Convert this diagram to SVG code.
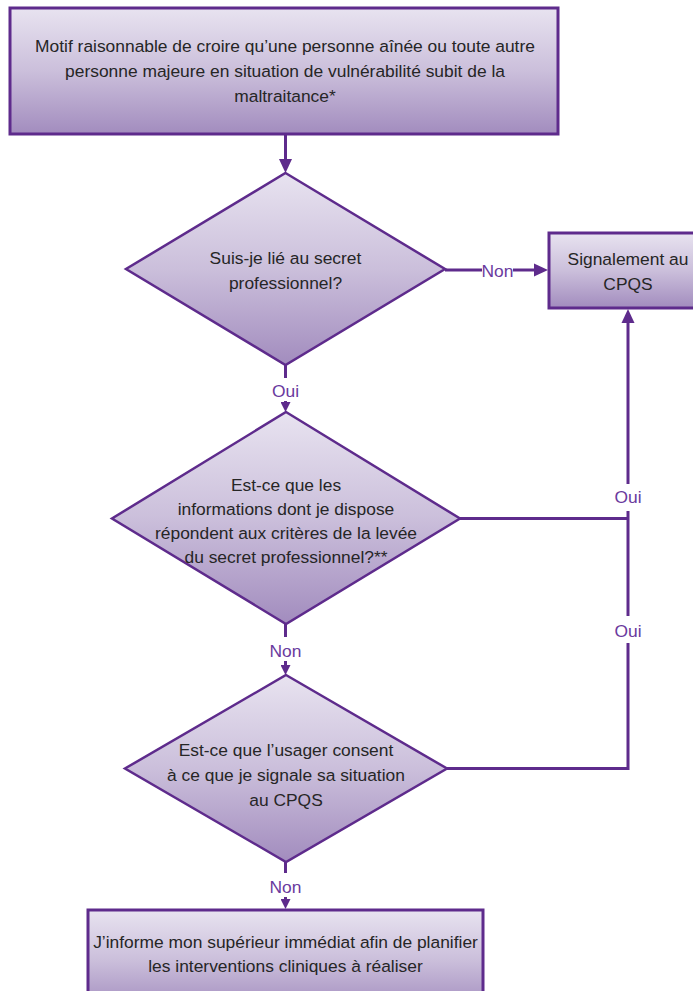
<svg xmlns="http://www.w3.org/2000/svg" width="693" height="991" viewBox="0 0 693 991">
<style>
.box{stroke:#5e2b8c;stroke-width:3;fill:url(#g)}
.dia{stroke:#5e2b8c;stroke-width:2.5;fill:url(#g);stroke-linejoin:miter}
.t{font-family:"Liberation Sans",Arial,sans-serif;font-size:17.4px;fill:#262626;text-anchor:middle}
.lbl{font-family:"Liberation Sans",Arial,sans-serif;font-size:17.4px;fill:#6a3a9e;text-anchor:middle}
.c{stroke:#5e2b8c;stroke-width:3;fill:none}
</style>
<defs>
<linearGradient id="g" x1="0" y1="0" x2="0" y2="1">
<stop offset="0" stop-color="#e8e3f0"/>
<stop offset="0.5" stop-color="#cbbfdb"/>
<stop offset="1" stop-color="#a28cbe"/>
</linearGradient>
<marker id="ab" markerUnits="userSpaceOnUse" markerWidth="14" markerHeight="14" viewBox="0 0 14 14" refX="2" refY="7" orient="auto">
<path d="M0,0.5 L14,7 L0,13.5 z" fill="#5e2b8c"/>
</marker>
<marker id="as" markerUnits="userSpaceOnUse" markerWidth="10" markerHeight="10" viewBox="0 0 10 10" refX="2" refY="5" orient="auto">
<path d="M0,0 L10,5 L0,10 z" fill="#5e2b8c"/>
</marker>
</defs>

<g id="connectors">
<path class="c" d="M285.5,135 V161" marker-end="url(#ab)"/>
<path class="c" d="M445,270 H482"/>
<text class="lbl" x="497.5" y="277">Non</text>
<path class="c" d="M513,270 H536" marker-end="url(#ab)"/>
<path class="c" d="M285.5,365 V378"/>
<text class="lbl" x="285.5" y="397">Oui</text>
<path class="c" d="M285.5,401 V404" marker-end="url(#as)"/>
<path class="c" d="M460,518.5 H628"/>
<path class="c" d="M628,616 V511"/>
<text class="lbl" x="628" y="503">Oui</text>
<path class="c" d="M628,484 V321" marker-end="url(#ab)"/>
<path class="c" d="M447,768.5 H628 V643"/>
<text class="lbl" x="628" y="637">Oui</text>
<path class="c" d="M285.5,624 V637"/>
<text class="lbl" x="285.5" y="657">Non</text>
<path class="c" d="M285.5,661 V667" marker-end="url(#as)"/>
<path class="c" d="M285.5,862 V873"/>
<text class="lbl" x="285.5" y="893">Non</text>
<path class="c" d="M285.5,897 V901" marker-end="url(#as)"/>
</g>

<g id="start">
<rect class="box" x="10" y="8" width="548" height="126"/>
<text class="t" x="285" y="52">Motif raisonnable de croire qu’une personne aînée ou toute autre</text>
<text class="t" x="285" y="77">personne majeure en situation de vulnérabilité subit de la</text>
<text class="t" x="285" y="102">maltraitance*</text>
</g>

<g id="q1">
<polygon class="dia" points="285.5,173 445,269 285.5,365 126,269"/>
<text class="t" x="285.5" y="264">Suis-je lié au secret</text>
<text class="t" x="285.5" y="289">professionnel?</text>
</g>

<g id="signalement">
<rect class="box" x="549" y="233" width="160" height="75"/>
<text class="t" x="628" y="265">Signalement au</text>
<text class="t" x="628" y="290">CPQS</text>
</g>

<g id="q2">
<polygon class="dia" points="286,412 460,518.5 286,624 112,518.5"/>
<text class="t" x="286" y="491">Est-ce que les</text>
<text class="t" x="286" y="515">informations dont je dispose</text>
<text class="t" x="286" y="539">répondent aux critères de la levée</text>
<text class="t" x="286" y="563">du secret professionnel?**</text>
</g>

<g id="q3">
<polygon class="dia" points="286,675 447,768.5 286,862 125,768.5"/>
<text class="t" x="286" y="756">Est-ce que l’usager consent</text>
<text class="t" x="286" y="781">à ce que je signale sa situation</text>
<text class="t" x="286" y="806">au CPQS</text>
</g>

<g id="informer">
<rect class="box" x="88" y="910" width="395" height="100"/>
<text class="t" x="285.5" y="948">J’informe mon supérieur immédiat afin de planifier</text>
<text class="t" x="285.5" y="972">les interventions cliniques à réaliser</text>
</g>
</svg>
